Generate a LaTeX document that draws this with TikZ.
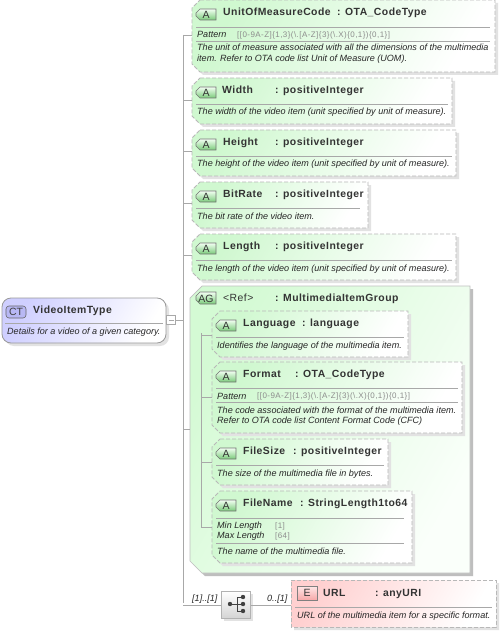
\documentclass[tikz,border=0pt]{standalone}
\usepackage{fontspec}
\setmainfont{Liberation Sans}
\newfontfamily\ttlf[LetterSpace=4.5]{Liberation Sans}
\newfontfamily\valf[LetterSpace=5.5]{Liberation Sans}
\usetikzlibrary{calc}
\definecolor{gA}{HTML}{D0F8D0}
\definecolor{gB}{HTML}{D4FAD4}
\definecolor{gC}{HTML}{FAFFFA}
\definecolor{dashc}{HTML}{B8B8B8}
\definecolor{linec}{HTML}{A8A8A8}
\definecolor{shad}{HTML}{E2E2E2}
\definecolor{shadB}{HTML}{BEBEBE}
\definecolor{txt}{HTML}{333333}
\definecolor{valc}{HTML}{8C8C8C}
\definecolor{rA}{HTML}{FFD0D0}
\definecolor{rB}{HTML}{F7A8A8}
\definecolor{vA}{HTML}{CFCFFF}
\definecolor{vB}{HTML}{B8B8F4}
\definecolor{bgA}{HTML}{7ACB7A}
\tikzset{
 conn/.style={draw=linec,line width=0.7pt},
 holder/.style={anchor=north west,inner sep=0pt,outer sep=0pt,rectangle},
 attrfill/.style={shading=axis,left color=gA,right color=white,shading angle=60},
 urlfill/.style={shading=axis,left color=rA,right color=white,shading angle=60},
 agfill/.style={shading=axis,left color=gB,right color=gC,shading angle=60},
 dashb/.style={draw=dashc,dash pattern=on 4pt off 2pt,line width=0.9pt},
 titlet/.style={anchor=base west,inner sep=0pt,font=\ttlf\bfseries\fontsize{10.4}{12}\selectfont,text=txt},
 reft/.style={anchor=base west,inner sep=0pt,font=\ttlf\fontsize{10.4}{12}\selectfont,text=txt},
 desct/.style={anchor=base west,inner sep=0pt,font=\itshape\fontsize{9.05}{11}\selectfont,text=black!85},
 valt/.style={anchor=base west,inner sep=0pt,font=\valf\fontsize{8}{10}\selectfont,text=valc},
 rulel/.style={draw=linec,line width=0.7pt},
 badget/.style={inner sep=0pt,font=\fontsize{10.5}{12}\selectfont,text=txt},
}
\newcommand{\chamf}[6]{% options x0 y0 x1 y1 c
 \path[#1] (#2+#6,#3) -- (#4,#3) -- (#4,#5) -- (#2+#6,#5) -- (#2,#5-#6) -- (#2,#3+#6) -- cycle;
}
\newcommand{\boxat}[7]{% name fill border x0 y0 x1 y1 ; chamfer in \chc, shadow in \shc
 \chamf{fill=\shc}{#4+3}{#5+3}{#6+3}{#7+3}{\chc}
 \chamf{#2}{#4}{#5}{#6}{#7}{\chc}
 \chamf{#3}{#4}{#5}{#6}{#7}{\chc}
 \pgfmathsetlengthmacro{\bw}{((#6)-(#4))*1pt}\pgfmathsetlengthmacro{\bh}{((#7)-(#5))*1pt}%
 \node[holder,minimum width=\bw,minimum height=\bh] (#1) at (#4,#5) {};
}
\newcommand{\abadge}[2]{%
 \draw[draw=black!55,line width=0.6pt,top color=green!5!white,bottom color=bgA]
   (#1+4,#2) -- (#1+20,#2) -- (#1+20,#2+11) -- (#1+4,#2+11) -- (#1,#2+7) -- (#1,#2+4) -- cycle;
}
\newcommand{\attrib}[9]{%
 \def\chc{8}\def\shc{shad}\boxat{#1}{attrfill}{dashb}{#2}{#3}{#4}{#5}
 \abadge{#2+4}{#3+9}
 \node[badget] (#1-b) at (#2+14,#3+14.5) {A};
 \node[titlet] (#1-n) at (#6,#3+15.5) {#7};
 \node[titlet] (#1-t) at (#8,#3+15.5) {: #9};
}
\begin{document}
\begin{tikzpicture}[x=1pt,y=-1pt]
\useasboundingbox (0,0) rectangle (500,631);
\fill[white] (0,0) rectangle (500,631);
\coordinate (trunkTop) at (183,35);
\coordinate (trunkBot) at (183,603);
\draw[conn] (trunkTop) -- (trunkBot);
% CT
\fill[shad,rounded corners=9pt] (5,301) rectangle (169,346);
\shade[rounded corners=9pt,left color=vA,right color=white,shading angle=60,draw=black!40,line width=0.8pt] (2,298) rectangle (166,343);
\node[inner sep=0pt,outer sep=0pt,minimum width=164pt,minimum height=45pt] (ct) at (84,320.5) {};
\draw[rounded corners=3pt,draw=black!60,fill=vB,line width=0.6pt] (6,306) rectangle (26,318);
\node[inner sep=0pt,font=\fontsize{10.5}{12}\selectfont,text=black!75] (ct-b) at (16,312.3) {CT};
\node[titlet] (ct-n) at (33,313) {VideoItemType};
\draw[rulel] (5,323) -- (163,323);
\node[desct] (ct-d) at (7,334) {Details for a video of a given category.};
\node[draw=linec,fill=white,inner sep=0pt,minimum width=9pt,minimum height=9pt,line width=0.7pt] (exp) at (171,320) {};
\draw[draw=linec,line width=0.7pt] (168.5,320) -- (173.5,320);
\draw[conn] (exp.east) -- (exp.east-|trunkTop);
% attributes
\attrib{uom}{192}{0}{495}{72}{223}{UnitOfMeasureCode}{337}{OTA\_CodeType}
\attrib{wid}{192}{78}{452}{124}{222}{Width}{275}{positiveInteger}
\attrib{hei}{192}{130}{456}{176}{223}{Height}{275}{positiveInteger}
\attrib{bit}{192}{182}{368}{228}{223}{BitRate}{275}{positiveInteger}
\attrib{len}{192}{234}{456}{280}{223}{Length}{275}{positiveInteger}
\draw[conn] ([yshift=1pt]uom.west) -- ([yshift=1pt]uom.west-|trunkTop);
\draw[conn] ([yshift=1pt]wid.west) -- ([yshift=1pt]wid.west-|trunkTop);
\draw[conn] ([yshift=2pt]hei.west) -- ([yshift=2pt]hei.west-|trunkTop);
\draw[conn] ([yshift=2pt]bit.west) -- ([yshift=2pt]bit.west-|trunkTop);
\draw[conn] ([yshift=2pt]len.west) -- ([yshift=2pt]len.west-|trunkTop);
\draw[rulel] (196,27) -- (490,27);
\node[desct] (uom-pl) at (197,38) {Pattern};
\node[valt] (uom-pv) at (237,37.5) {[[0-9A-Z]\{1,3\}(\textbackslash.[A-Z]\{3\}(\textbackslash.X)\{0,1\})\{0,1\}]};
\draw[rulel] (196,41) -- (490,41);
\node[desct] (uom-d1) at (197,51) {The unit of measure associated with all the dimensions of the multimedia};
\node[desct] (uom-d2) at (197,62) {item. Refer to OTA code list Unit of Measure (UOM).};
\draw[rulel] (196,104) -- (448,104);
\node[desct] (wid-d) at (197,115) {The width of the video item (unit specified by unit of measure).};
\draw[rulel] (196,156) -- (452,156);
\node[desct] (hei-d) at (197,167) {The height of the video item (unit specified by unit of measure).};
\draw[rulel] (196,208) -- (360,208);
\node[desct] (bit-d) at (197,219) {The bit rate of the video item.};
\draw[rulel] (196,260) -- (452,260);
\node[desct] (len-d) at (197,271) {The length of the video item (unit specified by unit of measure).};
% AG
\def\chc{12}\def\shc{shadB}\boxat{ag}{agfill}{draw=black!25,line width=0.7pt}{190}{286}{470}{573}
\draw[draw=black!55,line width=0.6pt,top color=green!5!white,bottom color=bgA] (200,292) -- (216,292) -- (216,304) -- (200,304) -- (196,300) -- (196,296) -- cycle;
\node[badget] (ag-b) at (206,298.5) {AG};
\node[reft] (ag-n) at (223,301) {<Ref>};
\node[titlet] (ag-t) at (275,301) {: MultimediaItemGroup};
\draw[conn] (ag.west) -- (ag.west-|trunkTop);
\coordinate (inTop) at (201,333);
\coordinate (inBot) at (201,527);
\draw[conn] (inTop) -- (inBot);
\attrib{lan}{212}{311}{408}{357}{243}{Language}{302}{language}
\attrib{fmt}{212}{362}{462}{433}{243}{Format}{295}{OTA\_CodeType}
\attrib{siz}{212}{439}{388}{485}{243}{FileSize}{293}{positiveInteger}
\attrib{nam}{212}{491}{412}{563}{243}{FileName}{300}{StringLength1to64}
\draw[conn] ([yshift=-1pt]lan.west) -- ([yshift=-1pt]lan.west-|inTop);
\draw[conn] (fmt.west) -- (fmt.west-|inTop);
\draw[conn] (siz.west) -- (siz.west-|inTop);
\draw[conn] (nam.west) -- (nam.west-|inTop);
\draw[rulel] (216,337) -- (404,337);
\node[desct] (lan-d) at (217,348) {Identifies the language of the multimedia item.};
\draw[rulel] (216,388) -- (458,388);
\node[desct] (fmt-pl) at (217,399) {Pattern};
\node[valt] (fmt-pv) at (257,398.5) {[[0-9A-Z]\{1,3\}(\textbackslash.[A-Z]\{3\}(\textbackslash.X)\{0,1\})\{0,1\}]};
\draw[rulel] (216,402) -- (458,402);
\node[desct] (fmt-d1) at (217,413) {The code associated with the format of the multimedia item.};
\node[desct] (fmt-d2) at (217,423) {Refer to OTA code list Content Format Code (CFC)};
\draw[rulel] (216,465) -- (384,465);
\node[desct] (siz-d) at (217,476) {The size of the multimedia file in bytes.};
\draw[rulel] (216,518) -- (404,518);
\node[desct] (nam-pl) at (217,528) {Min Length};
\node[valt] (nam-pv) at (275,528) {[1]};
\node[desct] (nam-ql) at (217,538) {Max Length};
\node[valt] (nam-qv) at (275,538) {[64]};
\draw[rulel] (216,543) -- (404,543);
\node[desct] (nam-d) at (217,554) {The name of the multimedia  file.};
% compositor
\node[anchor=north west,fill=shad,minimum width=29pt,minimum height=27pt,inner sep=0pt] (cs) at (224,594) {};
\node[anchor=north west,draw=black!30,top color=white,bottom color=black!17,minimum width=29pt,minimum height=27pt,inner sep=0pt,line width=0.7pt] (comp) at (221,591) {};
\draw[conn] (comp.west) -- (comp.west-|trunkBot);
\fill[black!75] (230,604) circle (2.2) (243,597) circle (2.2) (243,604) circle (2.2) (243,611) circle (2.2);
\draw[black!75,line width=0.9pt] (230,604) -- (243,604) (237,597) -- (237,611) (237,597) -- (243,597) (237,611) -- (243,611);
\node[desct] (m1) at (192,601) {[1]..[1]};
\node[desct] (m2) at (267,601) {0..[1]};
% URL
\def\chc{0}\def\shc{shad}\boxat{url}{urlfill}{dashb}{291}{580}{496}{627}
\draw[conn] (comp.east) -- (comp.east-|url.west);
\node[draw=black!50,top color=rA!50!white,bottom color=rB,minimum width=20pt,minimum height=14pt,inner sep=0pt,line width=0.6pt,font=\fontsize{10.5}{12}\selectfont,text=txt] (url-b) at (307,593) {E};
\node[titlet] (url-n) at (323,596) {URL};
\node[titlet] (url-t) at (375,596) {: anyURI};
\draw[rulel] (295,607) -- (492,607);
\node[desct] (url-d) at (297,618) {URL of the multimedia item for a specific format.};
\end{tikzpicture}
\end{document}
